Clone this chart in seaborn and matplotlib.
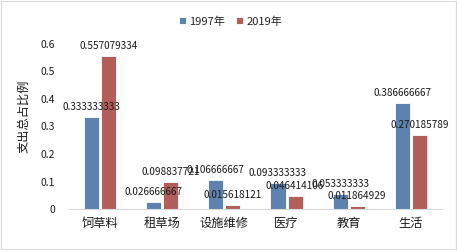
import pandas as pd
import matplotlib
matplotlib.use("Agg")
import matplotlib.pyplot as plt
import seaborn as sns
from matplotlib.patches import Rectangle

# 数据
categories = ["饲草料", "租草场", "设施维修", "医疗", "教育", "生活"]
years = ["1997年", "2019年"]
values_1997 = [0.333333333, 0.026666667, 0.106666667, 0.093333333, 0.053333333, 0.386666667]
values_2019 = [0.557079334, 0.098837721, 0.015618121, 0.046414106, 0.011864929, 0.270185789]

df = pd.DataFrame({
    "类别": categories * 2,
    "年份": [years[0]] * len(categories) + [years[1]] * len(categories),
    "比例": values_1997 + values_2019,
})

sns.set_style("white")
plt.rcParams["font.family"] = ["Noto Sans CJK SC", "DejaVu Sans"]

fig = plt.figure(figsize=(4.57, 2.5), dpi=100)
ax = fig.add_axes([0.151, 0.164, 0.816, 0.66])

sns.barplot(data=df, x="类别", y="比例", hue="年份", order=categories,
            hue_order=years, palette=["#4F81BD", "#C0504D"],
            width=0.55, gap=0.12, edgecolor="white", linewidth=0.6, ax=ax)

# 数据标签
for cont in ax.containers:
    ax.bar_label(cont, fmt="{:.9f}", padding=3.5, fontsize=7.2, color="#1a1a1a")

ax.set_ylim(0, 0.6)
ax.set_yticks([0, 0.1, 0.2, 0.3, 0.4, 0.5, 0.6])
ax.set_yticklabels(["0", "0.1", "0.2", "0.3", "0.4", "0.5", "0.6"])
ax.tick_params(axis="y", length=0, labelsize=7.5, pad=10, colors="#1a1a1a")
ax.tick_params(axis="x", length=0, labelsize=8.8, pad=6, colors="#1a1a1a")
ax.set_xlabel("")
ax.set_ylabel("支出总占比例", fontsize=8.8, color="#1a1a1a")
ax.yaxis.set_label_coords(-0.105, 0.56)

for s in ["top", "right", "left"]:
    ax.spines[s].set_visible(False)
ax.spines["bottom"].set_color("#d9d9d9")
ax.spines["bottom"].set_linewidth(0.8)

# 图例
handles, labels = ax.get_legend_handles_labels()
ax.get_legend().remove()
fig.legend(handles, labels, loc="upper center", bbox_to_anchor=(0.505, 0.975),
           ncol=2, frameon=False, fontsize=8, handlelength=0.6, handleheight=0.6,
           handletextpad=0.3, columnspacing=1.0)

# 图表边框
fig.patches.append(Rectangle((0.003, 0.006), 0.994, 0.99, transform=fig.transFigure,
                             fill=False, edgecolor="#d9d9d9", linewidth=0.8))

fig.savefig("out.png", dpi=100)
